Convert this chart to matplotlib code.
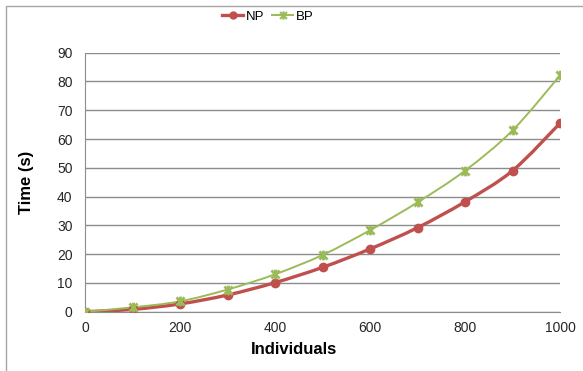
import matplotlib.pyplot as plt
import numpy as np
from matplotlib.lines import Line2D
from matplotlib.patches import PathPatch, Rectangle
from matplotlib.path import Path

individuals = [0, 100, 200, 300, 400, 500, 600, 700, 800, 900, 1000]
np_time = [0.0, 0.8, 2.7, 5.8, 10.1, 15.4, 21.8, 29.2, 38.2, 49.0, 65.5]
bp_time = [0.0, 1.5, 3.6, 7.7, 13.0, 19.7, 28.3, 38.0, 49.0, 63.0, 82.1]

red = "#C0504D"
green = "#9BBB59"
grid_gray = "#8C8C8C"
text_color = "#262626"

plt.rcParams["font.family"] = ["Liberation Sans", "DejaVu Sans"]


def smooth_path(xs, ys):
    # cubic bezier through the points, catmull-rom style control points
    pts = np.column_stack([xs, ys]).astype(float)
    n = len(pts)
    verts = [pts[0]]
    codes = [Path.MOVETO]
    for i in range(n - 1):
        p0 = pts[max(i - 1, 0)]
        p1 = pts[i]
        p2 = pts[i + 1]
        p3 = pts[min(i + 2, n - 1)]
        verts += [p1 + (p2 - p0) / 6, p2 - (p3 - p1) / 6, p2]
        codes += [Path.CURVE4] * 3
    return Path(verts, codes)


# asterisk: an x with a vertical stroke
star = Path(
    [(-1, -1), (1, 1), (-1, 1), (1, -1), (0, -1.2), (0, 1.2)],
    [Path.MOVETO, Path.LINETO, Path.MOVETO, Path.LINETO, Path.MOVETO, Path.LINETO])

fig = plt.figure(figsize=(5.83, 3.71), dpi=100)
fig.patches.append(Rectangle(
    (6 / 583, -0.1), 1.2, 1 - 6 / 371 + 0.1, transform=fig.transFigure,
    fill=False, edgecolor="#A6A6A6", linewidth=1.0))

ax = fig.add_axes([85 / 583, 59.3 / 371, 475 / 583, 259 / 371])

for ys, color, lw in [(np_time, red, 2.4), (bp_time, green, 1.4)]:
    ax.add_patch(PathPatch(smooth_path(individuals, ys), fill=False,
                           edgecolor=color, linewidth=lw, zorder=3))

ax.plot(individuals, np_time, linestyle="none", marker="o", markersize=6,
        color=red, zorder=4)
ax.plot(individuals, bp_time, linestyle="none", marker=star, markersize=7,
        markeredgewidth=2, color=green, zorder=4)

ax.set_xlim(0, 1000)
ax.set_ylim(0, 90)
ax.set_xticks(range(0, 1001, 200))
ax.set_yticks(range(0, 91, 10))
ax.grid(axis="y", color=grid_gray, linewidth=1.0)
ax.set_axisbelow(True)
for side in ["top", "right"]:
    ax.spines[side].set_visible(False)
for side in ["left", "bottom"]:
    ax.spines[side].set_color(grid_gray)
ax.tick_params(length=0, labelsize=10, labelcolor=text_color, pad=7)
ax.tick_params(axis="y", pad=9)

ax.set_xlabel("Individuals", fontsize=12, fontweight="bold", va="center")
ax.set_ylabel("Time (s)", fontsize=12, fontweight="bold", va="center")
ax.xaxis.set_label_coords((294 - 85) / 475, (311.7 - 350) / 259)
ax.yaxis.set_label_coords((27 - 85) / 475, 0.5)

handles = [
    Line2D([], [], color=red, linewidth=2.4, marker="o", markersize=5),
    Line2D([], [], color=green, linewidth=1.4, marker=star, markersize=6,
           markeredgewidth=1.5),
]
fig.legend(handles, ["NP", "BP"], loc="center", ncol=2,
           bbox_to_anchor=(268 / 583, 1 - 17 / 371), frameon=False,
           fontsize=9.5, handlelength=1.6, handletextpad=0.2,
           columnspacing=0.6)

fig.savefig("out.png", dpi=100)
